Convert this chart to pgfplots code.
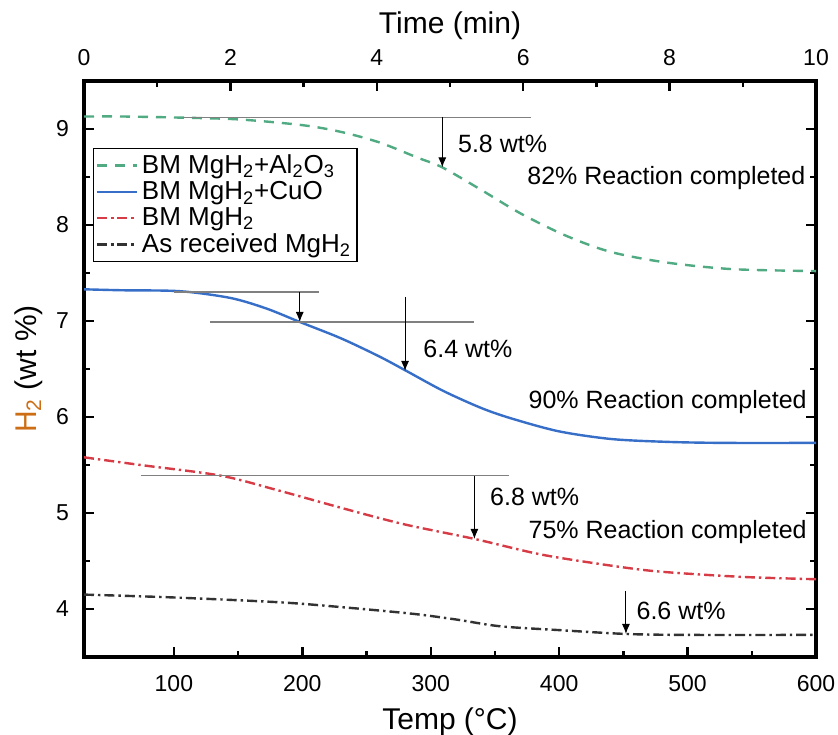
\documentclass[border=0pt]{standalone}
\usepackage{pgfplots}
\pgfplotsset{compat=1.18}
\usepackage{fontspec}
\setmainfont{Liberation Sans}
\usetikzlibrary{arrows.meta,calc}
\definecolor{cgreen}{RGB}{80,170,130}
\definecolor{cblue}{RGB}{55,110,200}
\definecolor{cred}{RGB}{215,60,70}
\definecolor{cblack}{RGB}{50,50,50}
\definecolor{corange}{RGB}{205,110,20}
\begin{document}
\begin{tikzpicture}
\pgfplotsset{
  every axis/.append style={
    width=366pt, height=288pt, scale only axis,
    axis line style={line width=1.6pt},
    major tick length=5pt, minor tick length=3pt,
    every tick/.style={black, line width=1.2pt},
    /pgf/number format/assume math mode=true,
    tick label style={font=\fontsize{11.5}{13}\selectfont},
    label style={font=\fontsize{15}{17}\selectfont, inner sep=0pt},
  }
}
\begin{axis}[
  xmin=30, xmax=600, ymin=3.5, ymax=9.5,
  xtick={100,200,300,400,500,600},
  minor x tick num=1,
  ytick={4,5,6,7,8,9},
  minor y tick num=1,
  xtick pos=bottom,
  ytick pos=both, yticklabel pos=left,
  xticklabel style={yshift=-5.5pt},
  yticklabel style={xshift=-4pt},
  xlabel={Temp (°C)},
  ylabel={\textcolor{corange}{H\textsubscript{2}} (wt \%)},
  xlabel style={at={(axis description cs:0.5,-0.087)}, anchor=north},
  ylabel style={at={(axis description cs:-0.056,0.5)}, anchor=south},
  legend style={at={(0.012,0.884)}, anchor=north west, draw=black, line width=0.8pt,
    font=\fontsize{13}{15}\selectfont, inner sep=1pt, row sep=-1.5pt, cells={anchor=west}},
  legend image code/.code={\draw[#1] plot coordinates {(0pt,0pt) (20pt,0pt)};},
]
\addplot[cgreen, line width=1.2pt, smooth, dash pattern=on 5pt off 4pt] coordinates {
(30,9.13) (60,9.13) (100,9.12) (150,9.10) (200,9.04) (230,8.97) (260,8.86) (290,8.70) (309,8.60) (340,8.36) (370,8.12) (405,7.89) (440,7.72) (483,7.61) (535,7.54) (600,7.52)};
\addlegendentry{BM MgH\textsubscript{2}+Al\textsubscript{2}O\textsubscript{3}}
\addplot[cblue, line width=1.2pt, smooth] coordinates {
(30,7.33) (60,7.32) (105,7.31) (144,7.24) (172,7.13) (198,6.99) (230,6.82) (260,6.63) (281,6.48) (310,6.27) (340,6.09) (364,5.98) (400,5.85) (441,5.77) (486,5.74) (530,5.73) (600,5.73)};
\addlegendentry{BM MgH\textsubscript{2}+CuO}
\addplot[cred, line width=1.2pt, smooth, dash pattern=on 5pt off 2pt on 1.2pt off 2pt] coordinates {
(30,5.58) (74,5.50) (136,5.39) (180,5.24) (234,5.04) (280,4.88) (334,4.73) (385,4.57) (431,4.47) (470,4.40) (509,4.36) (550,4.33) (600,4.31)};
\addlegendentry{BM MgH\textsubscript{2}}
\addplot[cblack, line width=1.2pt, smooth, dash pattern=on 5pt off 2pt on 1.2pt off 2pt] coordinates {
(30,4.15) (100,4.12) (182,4.07) (230,4.02) (286,3.95) (320,3.89) (354,3.82) (400,3.78) (452,3.74) (500,3.73) (600,3.73)};
\addlegendentry{As received MgH\textsubscript{2}}
% annotations
\draw[gray, line width=0.7pt] (axis cs:107,9.12) -- (axis cs:378,9.12);
\draw[black, line width=0.5pt, -{Latex[length=5pt,width=4pt]}] (axis cs:309,9.12) -- (axis cs:309,8.60);
\draw[gray, line width=0.7pt] (axis cs:100,7.30) -- (axis cs:213,7.30);
\draw[black, line width=0.5pt, -{Latex[length=5pt,width=4pt]}] (axis cs:198,7.30) -- (axis cs:198,6.99);
\draw[gray, line width=0.7pt] (axis cs:128,6.99) -- (axis cs:334,6.99);
\draw[black, line width=0.5pt, -{Latex[length=5pt,width=4pt]}] (axis cs:280,7.25) -- (axis cs:280,6.48);
\draw[gray, line width=0.7pt] (axis cs:74,5.39) -- (axis cs:361,5.39);
\draw[black, line width=0.5pt, -{Latex[length=5pt,width=4pt]}] (axis cs:334,5.39) -- (axis cs:334,4.73);
\draw[black, line width=0.5pt, -{Latex[length=5pt,width=4pt]}] (axis cs:452,4.19) -- (axis cs:452,3.74);
\begin{scope}[every node/.style={font=\fontsize{12.5}{14}\selectfont, inner sep=0pt}]
\node[anchor=west] at (axis cs:321,8.84) {5.8 wt\%};
\node[anchor=east] at (axis cs:592,8.49) {82\% Reaction completed};
\node[anchor=west] at (axis cs:294,6.71) {6.4 wt\%};
\node[anchor=east] at (axis cs:593,6.16) {90\% Reaction completed};
\node[anchor=west] at (axis cs:346,5.17) {6.8 wt\%};
\node[anchor=east] at (axis cs:593,4.80) {75\% Reaction completed};
\node[anchor=west] at (axis cs:460,3.98) {6.6 wt\%};
\end{scope}
\coordinate (LL) at (rel axis cs:0,0);
\coordinate (UR) at (rel axis cs:1,1);
\end{axis}
\begin{axis}[
  xmin=0, xmax=10, ymin=3.5, ymax=9.5,
  axis x line*=top, axis y line=none,
  xtick={0,2,4,6,8,10},
  minor x tick num=1,
  xticklabel style={yshift=4pt},
  xlabel={Time (min)},
  xlabel style={at={(axis description cs:0.5,1.071)}, anchor=south},
]
\end{axis}
\pgfresetboundingbox
\path[use as bounding box] ($(LL)+(-42pt,-39pt)$) rectangle ($(UR)+(11pt,40.5pt)$);
\end{tikzpicture}
\end{document}
